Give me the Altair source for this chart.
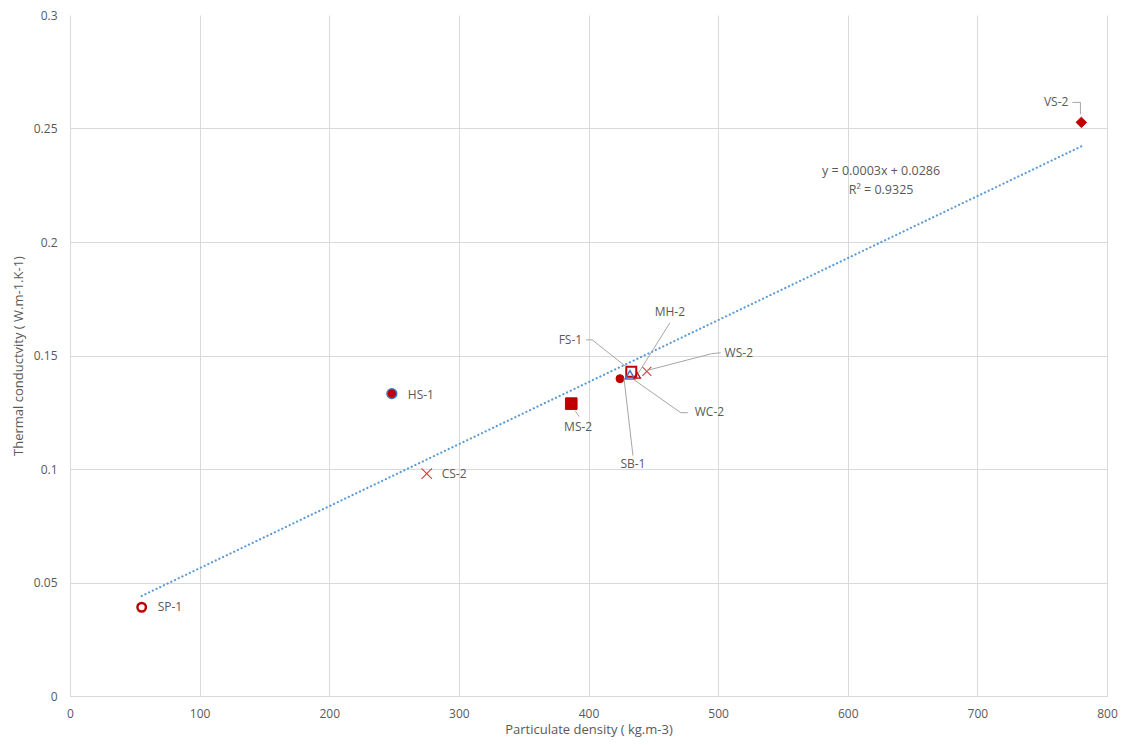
import altair as alt
import pandas as pd

# ---- data ----
names = ["SP-1", "HS-1", "CS-2", "MS-2", "SB-1", "FS-1", "WC-2", "MH-2", "WS-2", "VS-2"]
density = [55.3, 248.3, 275.2, 386.7, 424.3, 433.0, 432.0, 437.6, 445.0, 780.2]
conductivity = [0.0391, 0.1332, 0.0980, 0.1288, 0.1398, 0.1428, 0.1415, 0.1412, 0.1430, 0.2527]

RED = "#C00000"
XRED = "#D63A3A"
BLUE = "#4472C4"
XPATH = "M-1,-1L1,1M-1,1L1,-1"

shapes = ["circle", "circle", XPATH, "square", "circle", "square", "triangle-up", "triangle-up", XPATH, "diamond"]
fills = ["transparent", RED, "transparent", RED, RED, "transparent", "transparent", "transparent", "transparent", RED]
strokes = [RED, BLUE, XRED, RED, RED, RED, BLUE, RED, XRED, RED]
sizes = [72, 95, 110, 135, 64, 100, 90, 40, 80, 110]
stroke_w = [2.5, 1.5, 1.1, 1, 1, 2, 1.5, 1.3, 1.1, 1]

# label positions (data coordinates) and alignment
label_text = ["SP-1", "HS-1", "CS-2", "MS-2", "SB-1", "FS-1", "WC-2", "MH-2", "WS-2", "VS-2"]
label_x = [67.6, 260.6, 286.7, 392.0, 434.3, 395.1, 482.0, 462.8, 505.0, 770.2]
label_y = [0.0391, 0.1327, 0.0976, 0.1187, 0.1020, 0.1569, 0.1253, 0.1692, 0.1512, 0.2615]
label_align = ["left", "left", "left", "center", "center", "right", "left", "center", "left", "right"]

# leader lines (label -> point)
leader_name = ["VS-2", "VS-2", "VS-2", "FS-1", "FS-1", "FS-1", "MH-2", "MH-2",
               "WS-2", "WS-2", "WS-2", "WC-2", "WC-2", "WC-2", "SB-1", "SB-1", "MS-2", "MS-2"]
leader_order = [0, 1, 2, 0, 1, 2, 0, 1, 0, 1, 2, 0, 1, 2, 0, 1, 0, 1]
leader_x = [773.3, 779.5, 779.5, 398.2, 402.8, 428.9, 462.8, 438.2,
            502.0, 495.0, 444.3, 476.6, 471.2, 435.1, 434.3, 427.4, 389.7, 392.8]
leader_y = [0.2615, 0.2615, 0.2563, 0.1569, 0.1569, 0.1451, 0.1644, 0.1420,
            0.1512, 0.1508, 0.1433, 0.1248, 0.1248, 0.1393, 0.1059, 0.1398, 0.1257, 0.1231]

eq_text = ["y = 0.0003x + 0.0286", "R² = 0.9325"]
eq_x = [625.7, 625.7]
eq_y = [0.2312, 0.2229]

FONT = "Open Sans"
TXT = "#595959"

pts = pd.DataFrame({
    "name": names, "x": density, "y": conductivity, "shape": shapes,
    "fill": fills, "stroke": strokes, "size": sizes, "sw": stroke_w,
})
labels = pd.DataFrame({"t": label_text, "x": label_x, "y": label_y, "align": label_align})
leaders = pd.DataFrame({"name": leader_name, "o": leader_order, "x": leader_x, "y": leader_y})
eq = pd.DataFrame({"t": eq_text, "x": eq_x, "y": eq_y})

xscale = alt.Scale(domain=[0, 800], nice=False, zero=False)
yscale = alt.Scale(domain=[0, 0.3], nice=False, zero=False)

xaxis = alt.Axis(values=[0, 100, 200, 300, 400, 500, 600, 700, 800], ticks=False, labelPadding=12,
                 labelFlush=False,
                 title="Particulate density  ( kg.m-3)", titlePadding=4,
                 domainColor="#D9D9D9", gridColor="#D9D9D9")
yaxis = alt.Axis(values=[0, 0.05, 0.1, 0.15, 0.2, 0.25, 0.3], format=".2~f", ticks=False,
                 labelPadding=13, labelFlush=False,
                 title="Thermal conductvity  ( W.m-1.K-1)", titlePadding=8,
                 domain=False, gridColor="#D9D9D9",
                 gridOpacity={"condition": {"test": "datum.value >= 0.3", "value": 0}, "value": 1})

X = alt.X("x:Q", scale=xscale, axis=xaxis)
Y = alt.Y("y:Q", scale=yscale, axis=yaxis)

points = alt.Chart(pts).mark_point(opacity=1).encode(
    x=X, y=Y,
    shape=alt.Shape("shape:N", scale=None),
    fill=alt.Fill("fill:N", scale=None),
    stroke=alt.Stroke("stroke:N", scale=None),
    size=alt.Size("size:Q", scale=None),
    strokeWidth=alt.StrokeWidth("sw:Q", scale=None),
)

trend = alt.Chart(pts).transform_regression("x", "y").mark_line(
    color="#5B9BD5", strokeWidth=2.2, strokeDash=[0.1, 4], strokeCap="round"
).encode(x=alt.X("x:Q", scale=xscale), y=alt.Y("y:Q", scale=yscale))

lead = alt.Chart(leaders).mark_line(color="#A6A6A6", strokeWidth=1).encode(
    x=alt.X("x:Q", scale=xscale), y=alt.Y("y:Q", scale=yscale),
    detail="name:N", order="o:Q",
)

def lab(al):
    return alt.Chart(labels).transform_filter(alt.datum.align == al).mark_text(
        align=al, baseline="middle", font=FONT, fontSize=12, color=TXT
    ).encode(x=alt.X("x:Q", scale=xscale), y=alt.Y("y:Q", scale=yscale), text="t:N")

eqtext = alt.Chart(eq).mark_text(align="center", baseline="middle", font=FONT, fontSize=12.5, color=TXT).encode(
    x=alt.X("x:Q", scale=xscale), y=alt.Y("y:Q", scale=yscale), text="t:N")

chart = alt.layer(points, trend, lead, lab("left"), lab("center"), lab("right"), eqtext).properties(
    width=1037, height=681,
    padding={"left": 62, "top": 7, "right": 11, "bottom": 41},
    autosize="none",
).configure_axis(
    labelFont=FONT, labelFontSize=12, labelColor=TXT,
    titleFont=FONT, titleFontSize=13, titleColor=TXT, titleFontWeight="normal",
).configure_view(stroke=None)

chart.save("out.html", embed_options={"renderer": "svg", "actions": False})
